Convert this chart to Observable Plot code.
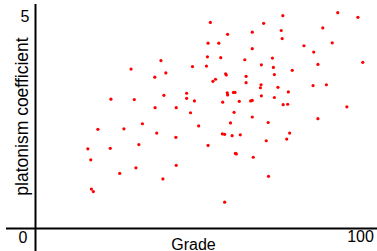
<!DOCTYPE html>
<html>
<head>
<meta charset="utf-8">
<script src="https://cdn.jsdelivr.net/npm/d3@7"></script>
<script src="https://cdn.jsdelivr.net/npm/@observablehq/plot@0.6"></script>
<style>
  html, body { margin: 0; padding: 0; background: #fff; }
</style>
</head>
<body>
<div id="chart"></div>
<script>
const grade = [53.8, 59.1, 53.1, 56.4, 52.9, 57.0, 64.4, 38.6, 29.4, 48.3,
  52.6, 40.1, 36.7, 58.5, 58.7, 64.8, 55.4, 54.6, 64.8, 46.5,
  59.0, 59.1, 60.9, 61.4, 39.5, 46.5, 30.4, 48.9, 57.6, 62.7,
  66.2, 66.7, 36.8, 43.3, 47.7, 61.1, 32.9, 60.0, 50.2, 27.2,
  23.2, 19.2, 76.1, 93.0, 99.2, 70.2, 66.7, 75.6, 88.4, 75.9,
  82.6, 91.3, 66.7, 85.6, 72.9, 100.7, 69.5, 73.2, 86.9, 79.0,
  73.5, 69.4, 69.2, 74.6, 85.4, 89.5, 77.8, 69.5, 73.5, 76.2,
  77.6, 95.8, 66.7, 71.6, 86.9, 16.1, 23.0, 17.0, 25.9, 17.2,
  17.8, 37.3, 43.2, 57.5, 58.2, 60.5, 63.0, 31.8, 53.1, 61.5,
  61.8, 30.9, 43.3, 39.2, 58.2, 78.2, 77.3, 71.0, 67.0, 71.7];
const platonism = [4.86, 4.58, 4.37, 4.37, 4.05, 4.03, 3.98, 3.96, 3.76, 3.82,
  3.83, 3.67, 3.57, 3.65, 3.62, 3.59, 3.52, 3.47, 3.44, 3.19,
  3.20, 3.15, 3.21, 3.21, 3.14, 3.07, 3.04, 3.01, 2.98, 3.00,
  3.01, 3.02, 2.85, 2.85, 2.73, 2.74, 2.47, 2.49, 2.42, 2.35,
  3.05, 2.34, 5.02, 5.09, 4.98, 4.84, 4.63, 4.67, 4.73, 4.48,
  4.31, 4.38, 4.24, 4.16, 4.02, 3.92, 3.86, 3.80, 3.87, 3.73,
  3.63, 3.39, 3.32, 3.33, 3.37, 3.39, 3.22, 3.13, 3.09, 2.92,
  2.93, 2.87, 2.63, 2.50, 2.59, 1.88, 1.89, 1.62, 1.30, 0.93,
  0.87, 2.25, 2.15, 2.23, 2.22, 2.19, 2.21, 1.98, 1.96, 1.77,
  1.76, 1.43, 1.49, 1.17, 0.62, 2.25, 2.11, 2.07, 1.68, 1.23];
const xTicks = [100];
const yTicks = [5];
const originLabel = ["0"];
const xLabel = "Grade";
const yLabel = "platonism coefficient";

const points = grade.map((g, i) => ({grade: g, platonism: platonism[i]}));

const font = "'Liberation Sans', Arial, Helvetica, sans-serif";

const chart = Plot.plot({
  width: 377,
  height: 251,
  marginLeft: 35,
  marginRight: 17,
  marginTop: 16,
  marginBottom: 23,
  style: {fontFamily: font, fontSize: "16px", color: "#000", background: "#fff", overflow: "visible"},
  x: {domain: [0, 100], ticks: xTicks, tickFormat: d => String(d), tickSize: 0, tickPadding: 2, label: null},
  y: {domain: [0, 5], ticks: yTicks, tickFormat: d => String(d), tickSize: 0, tickPadding: 6, label: null},
  marks: [
    Plot.ruleX([0], {stroke: "#000", strokeWidth: 2, insetTop: -12, insetBottom: -23}),
    Plot.ruleY([0], {stroke: "#000", strokeWidth: 2, insetLeft: -29, insetRight: -17}),
    Plot.dot(points, {x: "grade", y: "platonism", r: 1.6, fill: "#ff0000", stroke: "none"}),
    Plot.text(originLabel, {x: 0, y: 0, text: d => d, textAnchor: "middle", lineAnchor: "top", dx: -12.5, dy: 3, fontSize: 16, fill: "#000"}),
    Plot.text([xLabel], {frameAnchor: "bottom", text: d => d, textAnchor: "middle", lineAnchor: "bottom", dx: -4.5, dy: 21, fontSize: 16, fill: "#000"}),
    Plot.text([yLabel], {frameAnchor: "left", text: d => d, textAnchor: "middle", rotate: -90, lineAnchor: "bottom", dx: -7.5, dy: -6, fontSize: 17.5, fill: "#000"})
  ]
});
document.getElementById("chart").appendChild(chart);
</script>
</body>
</html>
